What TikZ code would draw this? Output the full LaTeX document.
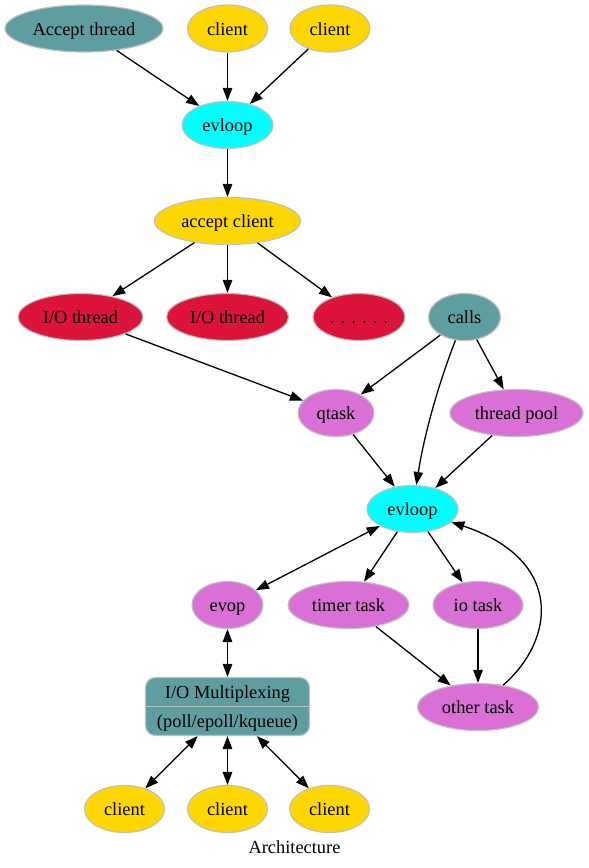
\documentclass[tikz,border=0pt]{standalone}
\usepackage{fontspec}
\setmainfont{Liberation Serif}
\usetikzlibrary{shapes.geometric,arrows.meta}
\definecolor{cadet}{HTML}{5F9EA0}
\definecolor{goldc}{HTML}{FFD700}
\definecolor{cyanc}{HTML}{00FFFF}
\definecolor{crimsonc}{HTML}{DC143C}
\definecolor{orchidc}{HTML}{DA70D6}
\definecolor{bord}{HTML}{C0C0C0}
\begin{document}
\begin{tikzpicture}[x=1pt,y=-1pt,
  nd/.style={ellipse, draw=bord, line width=1.2pt, inner sep=0pt, minimum height=47pt, text height=13.5pt, text depth=0pt, font=\fontsize{18.4}{20}\selectfont},
  txt/.style={inner sep=0pt, text height=13.5pt, text depth=0pt, font=\fontsize{18.4}{20}\selectfont},
  edge/.style={-{Triangle[length=13pt,width=9.5pt]}, line width=1.3pt},
  bi/.style={{Triangle[length=13pt,width=9.5pt]}-{Triangle[length=13pt,width=9.5pt]}, line width=1.3pt}]
\useasboundingbox (0,0) rectangle (589,868);
% nodes
\node[nd, fill=cadet, minimum width=158pt] (acc) at (84,28.5) {Accept thread};
\node[nd, fill=goldc, minimum width=80pt] (c1) at (227.5,28.5) {client};
\node[nd, fill=goldc, minimum width=80pt] (c2) at (330,28.5) {client};
\node[nd, fill=cyanc, minimum width=91pt] (ev1) at (227.5,125) {evloop};
\node[nd, fill=goldc, minimum width=146pt] (ac) at (227.5,221) {accept client};
\node[nd, fill=crimsonc, minimum width=125pt] (io1) at (80.5,317) {I/O thread};
\node[nd, fill=crimsonc, minimum width=122pt] (io2) at (227.5,317) {I/O thread};
\node[nd, fill=crimsonc, minimum width=92pt] (dots) at (359,317) {. . . . . .};
\node[nd, fill=cadet, minimum width=72pt] (calls) at (464.5,317) {calls};
\node[nd, fill=orchidc, minimum width=76pt] (qt) at (336,413) {qtask};
\node[nd, fill=orchidc, minimum width=133pt] (tp) at (516.5,413) {thread pool};
\node[nd, fill=cyanc, minimum width=91pt] (ev2) at (412.5,509) {evloop};
\node[nd, fill=orchidc, minimum width=71pt] (evop) at (227.5,605) {evop};
\node[nd, fill=orchidc, minimum width=121pt] (tt) at (348.5,605) {timer task};
\node[nd, fill=orchidc, minimum width=90pt] (iot) at (478,605) {io task};
\node[nd, fill=orchidc, minimum width=121pt] (ot) at (478,707) {other task};
\node[rectangle, rounded corners=10pt, draw=bord, fill=cadet, line width=1.2pt, minimum width=164pt, minimum height=58pt, inner sep=0pt] (mux) at (227.5,706.5) {};
\draw[bord, line width=1.2pt] (mux.west) -- (mux.east);
\node[txt] (muxa) at (227.5,692) {I/O Multiplexing};
\node[txt] (muxb) at (227.5,721) {(poll/epoll/kqueue)};
\node[nd, fill=goldc, minimum width=80pt] (b1) at (124.5,809) {client};
\node[nd, fill=goldc, minimum width=80pt] (b2) at (227.5,809) {client};
\node[nd, fill=goldc, minimum width=80pt] (b3) at (329.5,809) {client};
\node[txt] (title) at (294.5,847) {Architecture};
% edges
\draw[edge] (acc) -- (ev1);
\draw[edge] (c1) -- (ev1);
\draw[edge] (c2) -- (ev1);
\draw[edge] (ev1) -- (ac);
\draw[edge] (ac) -- (io1);
\draw[edge] (ac) -- (io2);
\draw[edge] (ac) -- (dots);
\draw[edge] (io1) -- (qt);
\draw[edge] (calls) -- (qt);
\draw[edge] (calls) .. controls (440,380) and (425,430) .. (ev2);
\draw[edge] (calls) -- (tp);
\draw[edge] (qt) -- (ev2);
\draw[edge] (tp) -- (ev2);
\draw[bi] (ev2) -- (evop);
\draw[edge] (ev2) -- (tt);
\draw[edge] (ev2) -- (iot);
\draw[edge] (tt) -- (ot);
\draw[edge] (iot) -- (ot);
\draw[edge] (ot) .. controls (555,640) and (565,560) .. (ev2);
\draw[bi] (evop) -- (mux);
\draw[bi] (mux) -- (b1);
\draw[bi] (mux) -- (b2);
\draw[bi] (mux) -- (b3);
\end{tikzpicture}
\end{document}
